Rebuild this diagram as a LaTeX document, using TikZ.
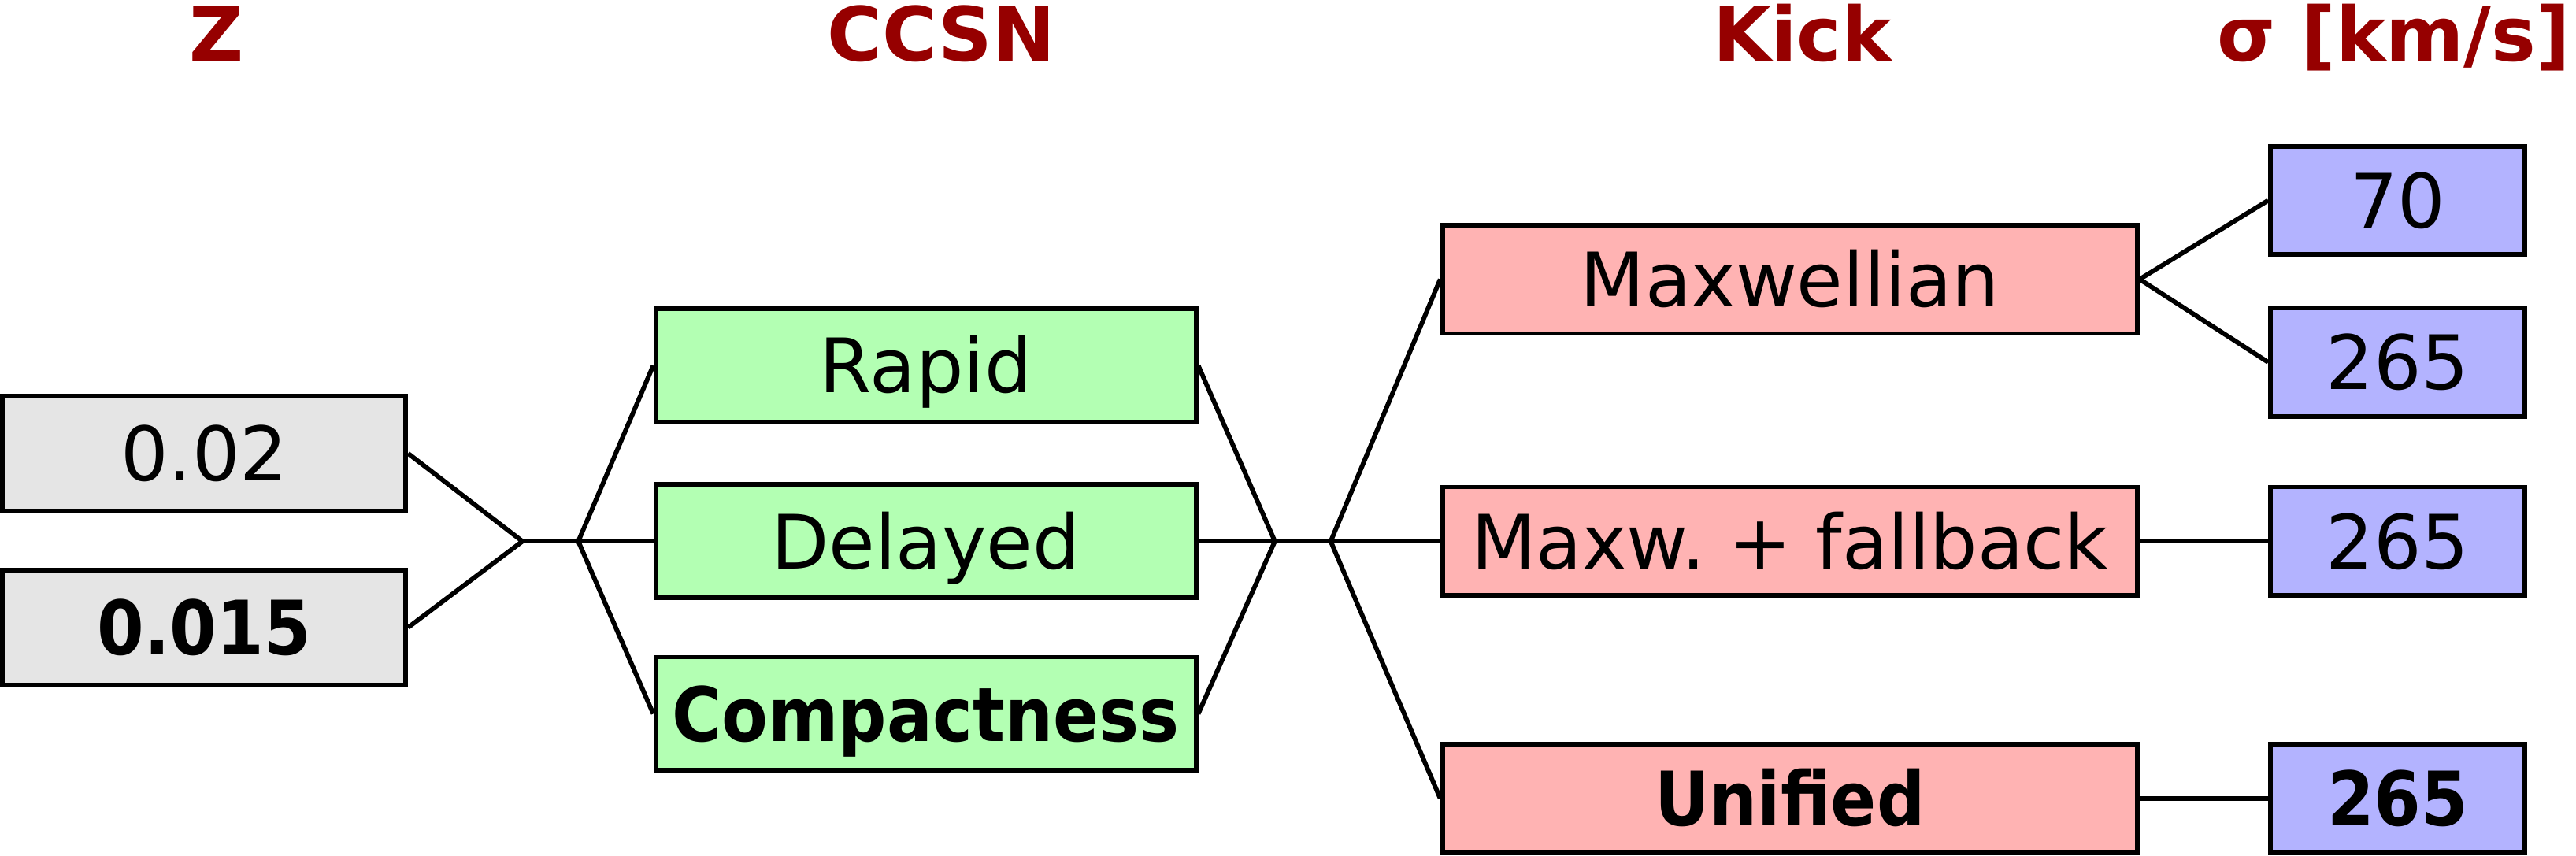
\documentclass[tikz,border=0pt]{standalone}
\usepackage{fontspec}
\setmainfont{DejaVu Sans}
\newfontfamily\condfont[FakeStretch=0.9]{DejaVu Sans}
\usepackage{tikz}

\definecolor{zgray}{HTML}{E5E5E5}
\definecolor{sngreen}{HTML}{B3FFB3}
\definecolor{kickred}{HTML}{FFB3B3}
\definecolor{sigblue}{HTML}{B3B3FF}
\definecolor{titlered}{HTML}{960000}

\begin{document}
\begin{tikzpicture}[x=0.02cm,y=-0.02cm,
    box/.style={draw,line width=1.6pt,inner sep=0pt,text height=19pt,text depth=0pt,
        font=\fontsize{26}{31}\selectfont},
    zbox/.style={box,fill=zgray,minimum width=4.91cm,minimum height=1.4cm},
    snbox/.style={box,fill=sngreen,minimum width=6.58cm,minimum height=1.38cm},
    kickbox/.style={box,fill=kickred,minimum width=8.46cm,minimum height=1.32cm},
    sigbox/.style={box,fill=sigblue,minimum width=3.1cm,minimum height=1.32cm},
    title/.style={anchor=base,text=titlered,font=\fontsize{26}{31}\selectfont\bfseries},
    link/.style={line width=1.6pt}]
    \useasboundingbox (0,0) rectangle (1568,521);

    % Column titles
    \node (t_z) [title] at (132,37) {Z};
    \node (t_sn) [title] at (573,37) {CCSN};
    \node (t_kick) [title] at (1097,37) {Kick};
    \node (t_sig) [title] at (1457,37) {σ [km/s]};

    % Boxes
    \node (z_1) [zbox] at (124.25,276) {0.02};
    \node (z_2) [zbox] at (124.25,382) {\condfont\bfseries 0.015};

    \node (sn_1) [snbox] at (563.5,222.5) {Rapid};
    \node (sn_2) [snbox] at (563.5,329.5) {Delayed};
    \node (sn_3) [snbox] at (563.5,434.5) {\condfont\bfseries Compactness};

    \node (kick_1) [kickbox] at (1089.5,170) {Maxwellian};
    \node (kick_2) [kickbox] at (1089.5,329.5) {Maxw.\ + fallback};
    \node (kick_3) [kickbox] at (1089.5,486) {\condfont\bfseries Unified};

    \node (sig_1) [sigbox] at (1459.5,122) {70};
    \node (sig_2) [sigbox] at (1459.5,220.5) {265};
    \node (sig_3) [sigbox] at (1459.5,329.5) {265};
    \node (sig_4) [sigbox] at (1459.5,486) {\condfont\bfseries 265};

    % Branch points
    \coordinate (j_1) at (318,329.5);
    \coordinate (j_2) at (352,329.5);
    \coordinate (j_3) at (776,329.5);
    \coordinate (j_4) at (810,329.5);

    % Connectors
    \draw [link] (z_1.east) -- (j_1) -- (z_2.east);
    \draw [link] (j_1) -- (j_2);
    \draw [link] (sn_1.west) -- (j_2) -- (sn_3.west);
    \draw [link] (j_2) -- (sn_2.west);
    \draw [link] (sn_1.east) -- (j_3) -- (sn_3.east);
    \draw [link] (sn_2.east) -- (j_3) -- (j_4);
    \draw [link] (kick_1.west) -- (j_4) -- (kick_3.west);
    \draw [link] (j_4) -- (kick_2.west);
    \draw [link] (sig_1.west) -- (kick_1.east) -- (sig_2.west);
    \draw [link] (kick_2.east) -- (sig_3.west);
    \draw [link] (kick_3.east) -- (sig_4.west);

\end{tikzpicture}
\end{document}
